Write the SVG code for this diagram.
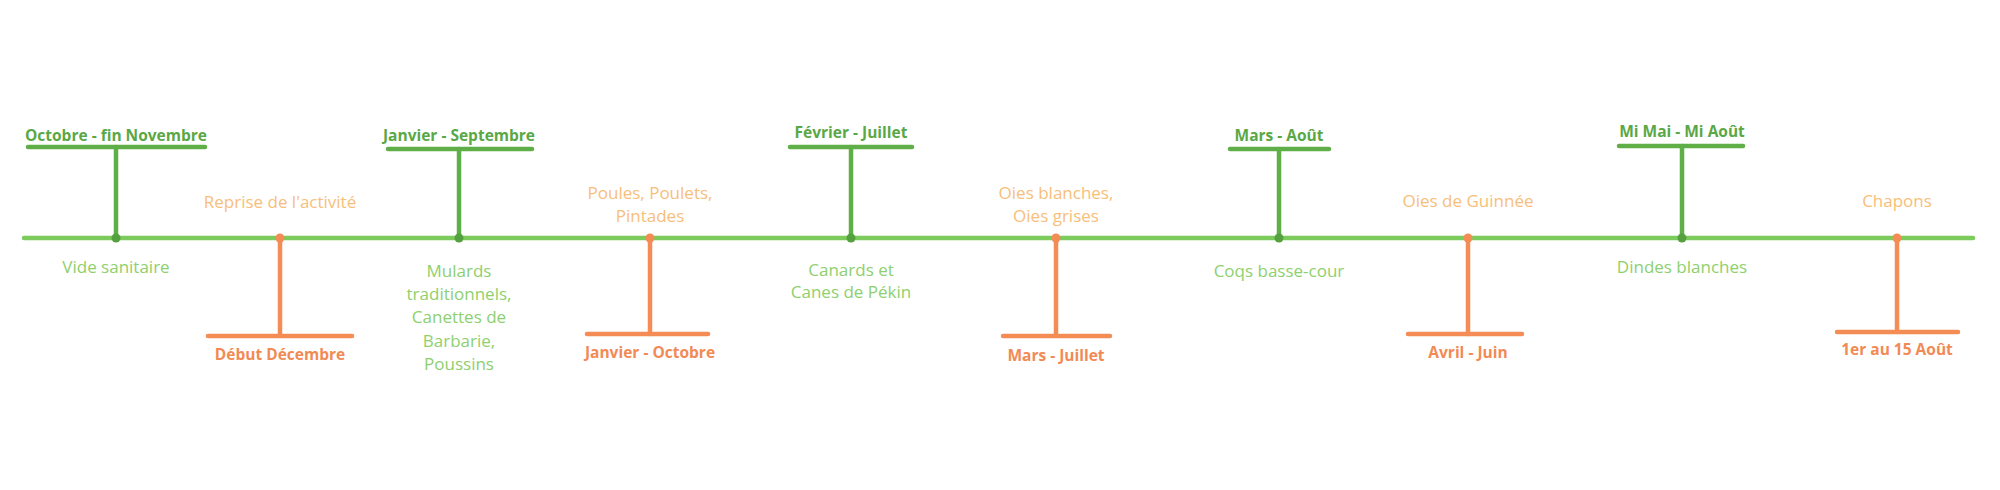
<svg xmlns="http://www.w3.org/2000/svg" width="2000" height="490" viewBox="0 0 2000 490">
<style>
.axis{stroke:#7ccb5c;stroke-width:4.5;stroke-linecap:round;fill:none}
.g{stroke:#5fae47;stroke-width:4.5;stroke-linecap:round;fill:none}
.o{stroke:#f48c55;stroke-width:4.5;stroke-linecap:round;fill:none}
.gd{fill:#55a03f}
.od{fill:#f48c55}
text{font-family:"Open Sans","Liberation Sans",sans-serif;text-anchor:middle}
.gb{font-size:15.5px;font-weight:bold;fill:#5aa845}
.ob{font-size:15.5px;font-weight:bold;fill:#f28a55}
.gl{font-size:17px;fill:#8ed06e}
.ol{font-size:17px;fill:#f8be7a}
</style>
<rect width="2000" height="490" fill="#ffffff"/>
<g id="connectors">
<line class="axis" x1="24" y1="238" x2="1973" y2="238"/>
</g>
<g id="n1">
<line class="g" x1="28" y1="147" x2="205" y2="147"/>
<line class="g" x1="116" y1="147" x2="116" y2="238"/>
<circle class="gd" cx="116" cy="238" r="4.5"/>
<text class="gb" x="116" y="141">Octobre - fin Novembre</text>
<text class="gl" x="116" y="273">Vide sanitaire</text>
</g>
<g id="n2">
<line class="o" x1="208" y1="336" x2="352" y2="336"/>
<line class="o" x1="280" y1="238" x2="280" y2="336"/>
<circle class="od" cx="280" cy="238" r="4.5"/>
<text class="ol" x="280" y="208">Reprise de l'activité</text>
<text class="ob" x="280" y="360">Début Décembre</text>
</g>
<g id="n3">
<line class="g" x1="388" y1="149" x2="532" y2="149"/>
<line class="g" x1="459" y1="149" x2="459" y2="238"/>
<circle class="gd" cx="459" cy="238" r="4.5"/>
<text class="gb" x="459" y="141">Janvier - Septembre</text>
<text class="gl" x="459" y="277">Mulards</text>
<text class="gl" x="459" y="300">traditionnels,</text>
<text class="gl" x="459" y="323">Canettes de</text>
<text class="gl" x="459" y="347">Barbarie,</text>
<text class="gl" x="459" y="370">Poussins</text>
</g>
<g id="n4">
<line class="o" x1="587" y1="334" x2="708" y2="334"/>
<line class="o" x1="650" y1="238" x2="650" y2="334"/>
<circle class="od" cx="650" cy="238" r="4.5"/>
<text class="ol" x="650" y="199">Poules, Poulets,</text>
<text class="ol" x="650" y="222">Pintades</text>
<text class="ob" x="650" y="358">Janvier - Octobre</text>
</g>
<g id="n5">
<line class="g" x1="790" y1="147" x2="912" y2="147"/>
<line class="g" x1="851" y1="147" x2="851" y2="238"/>
<circle class="gd" cx="851" cy="238" r="4.5"/>
<text class="gb" x="851" y="138">Février - Juillet</text>
<text class="gl" x="851" y="276">Canards et</text>
<text class="gl" x="851" y="298">Canes de Pékin</text>
</g>
<g id="n6">
<line class="o" x1="1003" y1="336" x2="1110" y2="336"/>
<line class="o" x1="1056" y1="238" x2="1056" y2="336"/>
<circle class="od" cx="1056" cy="238" r="4.5"/>
<text class="ol" x="1056" y="199">Oies blanches,</text>
<text class="ol" x="1056" y="222">Oies grises</text>
<text class="ob" x="1056" y="361">Mars - Juillet</text>
</g>
<g id="n7">
<line class="g" x1="1230" y1="149" x2="1329" y2="149"/>
<line class="g" x1="1279" y1="149" x2="1279" y2="238"/>
<circle class="gd" cx="1279" cy="238" r="4.5"/>
<text class="gb" x="1279" y="141">Mars - Août</text>
<text class="gl" x="1279" y="277">Coqs basse-cour</text>
</g>
<g id="n8">
<line class="o" x1="1408" y1="334" x2="1522" y2="334"/>
<line class="o" x1="1468" y1="238" x2="1468" y2="334"/>
<circle class="od" cx="1468" cy="238" r="4.5"/>
<text class="ol" x="1468" y="207">Oies de Guinnée</text>
<text class="ob" x="1468" y="358">Avril - Juin</text>
</g>
<g id="n9">
<line class="g" x1="1619" y1="146" x2="1743" y2="146"/>
<line class="g" x1="1682" y1="146" x2="1682" y2="238"/>
<circle class="gd" cx="1682" cy="238" r="4.5"/>
<text class="gb" x="1682" y="137">Mi Mai - Mi Août</text>
<text class="gl" x="1682" y="273">Dindes blanches</text>
</g>
<g id="n10">
<line class="o" x1="1837" y1="332" x2="1958" y2="332"/>
<line class="o" x1="1897" y1="238" x2="1897" y2="332"/>
<circle class="od" cx="1897" cy="238" r="4.5"/>
<text class="ol" x="1897" y="207">Chapons</text>
<text class="ob" x="1897" y="355">1er au 15 Août</text>
</g>
</svg>
